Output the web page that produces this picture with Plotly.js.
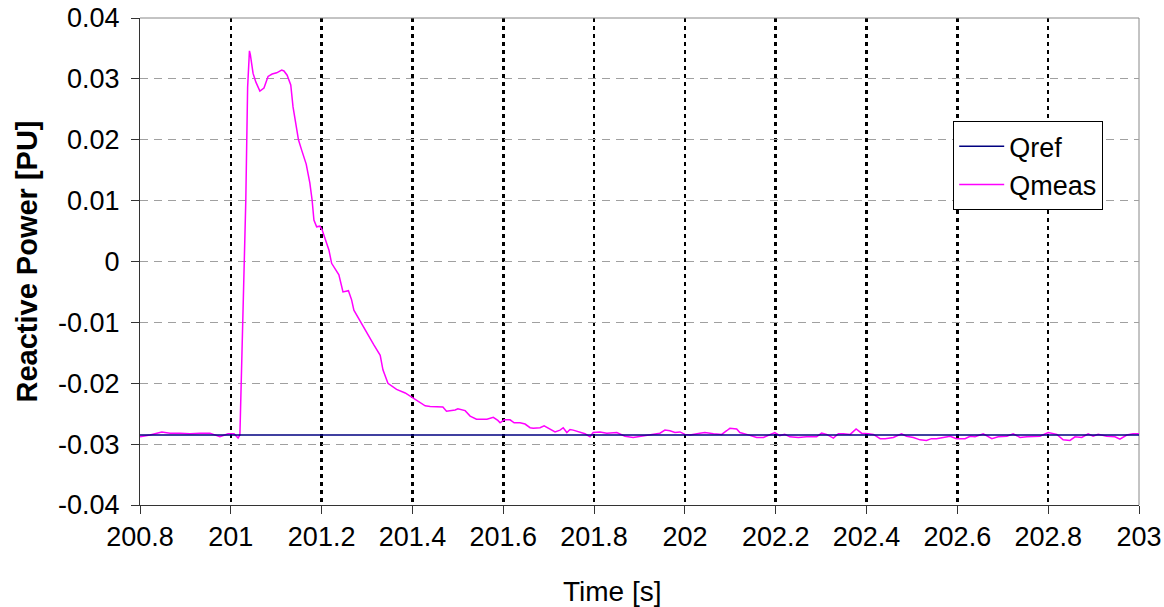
<!DOCTYPE html>
<html>
<head>
<meta charset="utf-8">
<script src="https://cdn.plot.ly/plotly-3.0.1.min.js"></script>
<style>
html,body{margin:0;padding:0;background:#fff;}
#chart{width:1164px;height:607px;}
</style>
</head>
<body>
<div id="chart"></div>
<script>
const timeMeas = [
 200.800,200.822,200.848,200.866,200.888,200.910,200.932,200.954,200.976,200.994,201.007,201.016,
 201.020,201.027,201.033,201.037,201.041,201.043,201.049,201.055,201.064,201.073,201.077,201.082,
 201.091,201.101,201.112,201.117,201.124,201.132,201.137,201.149,201.156,201.166,201.174,201.179,
 201.183,201.189,201.196,201.201,201.216,201.222,201.238,201.247,201.259,201.266,201.271,201.284,
 201.299,201.315,201.329,201.335,201.346,201.365,201.384,201.401,201.417,201.428,201.439,201.452,
 201.467,201.475,201.494,201.500,201.516,201.527,201.541,201.564,201.571,201.578,201.588,201.593,
 201.602,201.615,201.624,201.637,201.648,201.659,201.666,201.681,201.690,201.703,201.714,201.725,
 201.732,201.740,201.747,201.754,201.769,201.780,201.791,201.798,201.813,201.828,201.850,201.868,
 201.886,201.901,201.923,201.945,201.956,201.967,201.978,201.989,202.000,202.011,202.033,202.044,
 202.063,202.081,202.092,202.099,202.114,202.121,202.136,202.158,202.173,202.187,202.198,202.209,
 202.220,202.231,202.250,202.268,202.290,202.301,202.312,202.327,202.338,202.349,202.364,202.377,
 202.389,202.404,202.415,202.430,202.441,202.459,202.477,202.488,202.503,202.518,202.532,202.543,
 202.554,202.569,202.584,202.598,202.617,202.628,202.639,202.657,202.665,202.676,202.690,202.709,
 202.723,202.738,202.753,202.767,202.782,202.800,202.819,202.833,202.848,202.859,202.874,202.888,
 202.899,202.910,202.929,202.947,202.958,202.973,202.987,203.000
];
const qMeas = [
 -0.0288,-0.0285,-0.0280,-0.0282,-0.0282,-0.0283,-0.0282,-0.0282,-0.0288,-0.0283,-0.0283,-0.0290,
 -0.0285,-0.0100,0.0100,0.0286,0.0346,0.0340,0.0309,0.0295,0.0280,0.0285,0.0295,0.0304,
 0.0308,0.0310,0.03145,0.0313,0.0306,0.0290,0.0254,0.0200,0.0183,0.0160,0.0129,0.0101,
 0.0068,0.0057,0.0058,0.0052,0.0019,-0.0003,-0.0022,-0.0050,-0.0048,-0.0063,-0.0080,-0.0097,
 -0.0118,-0.0137,-0.0154,-0.0178,-0.0200,-0.0210,-0.0216,-0.0224,-0.0232,-0.0237,-0.0238,-0.0239,
 -0.0239,-0.0246,-0.0244,-0.0242,-0.0245,-0.0254,-0.0259,-0.0259,-0.0257,-0.0256,-0.0261,-0.0265,
 -0.0260,-0.0260,-0.0265,-0.0265,-0.0267,-0.0273,-0.0274,-0.0273,-0.0270,-0.0276,-0.0280,-0.0277,
 -0.0273,-0.0281,-0.0276,-0.0277,-0.0281,-0.0283,-0.0288,-0.0281,-0.0280,-0.0282,-0.0281,-0.0287,
 -0.0289,-0.0287,-0.0285,-0.0282,-0.0277,-0.0278,-0.0281,-0.0280,-0.0284,-0.0285,-0.0282,-0.0281,
 -0.0283,-0.0284,-0.0278,-0.0274,-0.0275,-0.0281,-0.0284,-0.0289,-0.0289,-0.0285,-0.0281,-0.0286,
 -0.0284,-0.0288,-0.0289,-0.0288,-0.0288,-0.0282,-0.0284,-0.0290,-0.0283,-0.0283,-0.0284,-0.0275,
 -0.0282,-0.0283,-0.0284,-0.0291,-0.0291,-0.0289,-0.0283,-0.0287,-0.0289,-0.0293,-0.0294,-0.0291,
 -0.0291,-0.0289,-0.0287,-0.0291,-0.0291,-0.0287,-0.0288,-0.0283,-0.0287,-0.0291,-0.0288,-0.0287,
 -0.0283,-0.0289,-0.0288,-0.0287,-0.0287,-0.0281,-0.0284,-0.0293,-0.0294,-0.0288,-0.0289,-0.0283,
 -0.0287,-0.0284,-0.0287,-0.0288,-0.0292,-0.0285,-0.0283,-0.0283
];
const timeRef = [200.8, 203.0];
const qRef = [-0.0285, -0.0285];

const xTickVals = [200.8,201,201.2,201.4,201.6,201.8,202,202.2,202.4,202.6,202.8,203];
const xTickText = ["200.8","201","201.2","201.4","201.6","201.8","202","202.2","202.4","202.6","202.8","203"];
const yTickVals = [0.04,0.03,0.02,0.01,0,-0.01,-0.02,-0.03,-0.04];
const yTickText = ["0.04","0.03","0.02","0.01","0","-0.01","-0.02","-0.03","-0.04"];

const FONT = "Liberation Sans, Arial, sans-serif";

const traces = [
 {x: timeMeas, y: qMeas, name: "Qmeas", mode: "lines", legendrank: 2,
  line: {color: "#FF00FF", width: 1.5}},
 {x: timeRef, y: qRef, name: "Qref", mode: "lines", legendrank: 1,
  line: {color: "#000080", width: 1.5}}
];

const layout = {
 width: 1164, height: 607,
 paper_bgcolor: "#fff", plot_bgcolor: "#fff",
 margin: {l: 140, r: 25, t: 18, b: 102, pad: 0},
 font: {family: FONT, color: "#000", size: 27},
 showlegend: true,
 legend: {x: 0.814, y: 0.788, xanchor: "left", yanchor: "top",
  bgcolor: "#fff", bordercolor: "#000", borderwidth: 1, itemwidth: 45,
  font: {family: FONT, size: 27, color: "#000"}, tracegroupgap: 0},
 xaxis: {range: [200.8, 203], tickmode: "array", tickvals: xTickVals, ticktext: xTickText,
  ticks: "outside", ticklen: 8, tickcolor: "#333", tickwidth: 1,
  showline: true, linecolor: "#333", linewidth: 1,
  showgrid: true, gridcolor: "#000", gridwidth: 2.5, griddash: "4px,4px",
  zeroline: false, tickfont: {family: FONT, size: 27, color: "#000"}},
 yaxis: {range: [-0.04, 0.04], tickmode: "array", tickvals: yTickVals, ticktext: yTickText,
  ticks: "outside", ticklen: 8, tickcolor: "#333", tickwidth: 1, ticklabelstandoff: 6,
  showline: true, linecolor: "#333", linewidth: 1,
  showgrid: true, gridcolor: "#a0a0a0", gridwidth: 1, griddash: "8px,6px",
  zeroline: false, tickfont: {family: FONT, size: 27, color: "#000"}},
 shapes: [
  {type: "line", xref: "paper", yref: "paper", x0: 0, x1: 1, y0: 1, y1: 1, line: {color: "#888", width: 1}},
  {type: "line", xref: "paper", yref: "paper", x0: 1, x1: 1, y0: 0, y1: 1, line: {color: "#888", width: 1}, layer: "below"}
 ],
 annotations: [
  {text: "Time [s]", xref: "paper", yref: "paper", x: 0.4725, y: -0.1766,
   xanchor: "center", yanchor: "middle", showarrow: false,
   font: {family: FONT, size: 28, color: "#000"}},
  {text: "<b>Reactive Power [PU]</b>", xref: "paper", yref: "paper", x: -0.1141, y: 0.5,
   xanchor: "center", yanchor: "middle", textangle: -90, showarrow: false,
   font: {family: FONT, size: 29, color: "#000"}}
 ]
};

Plotly.newPlot("chart", traces, layout, {displayModeBar: false, staticPlot: true});
</script>
</body>
</html>
